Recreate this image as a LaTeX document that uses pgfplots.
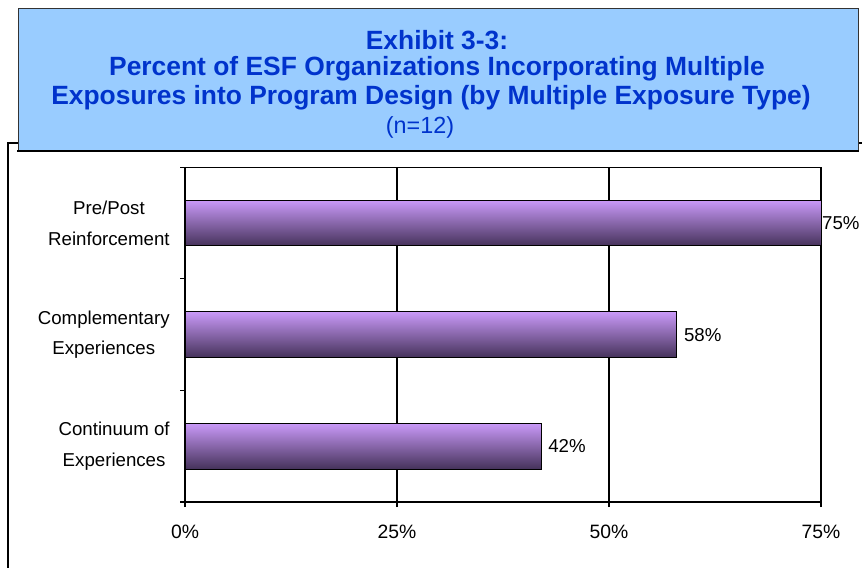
\documentclass[border=0pt]{standalone}
\usepackage{pgfplots}
\pgfplotsset{compat=1.18}
\usepackage{fontspec}
\setmainfont{Liberation Sans}
\definecolor{boxfill}{HTML}{99CCFF}
\definecolor{titleblue}{HTML}{0033CC}
\definecolor{barlight}{HTML}{C999F8}
\definecolor{barmid}{HTML}{8E6AB5}
\definecolor{bardark}{HTML}{45325A}
\pgfplotsset{
  mybar/.style={xbar, bar shift=0, draw=black, line width=0.75pt,
    top color=barlight, middle color=barmid, bottom color=bardark,
    nodes near coords={\pgfmathprintnumber{\pgfplotspointmeta}\%},
    nodes near coords style={font=\fontsize{14}{16}\selectfont, anchor=west, inner sep=0pt, xshift=#1, text=black},
    point meta=x},
}
\begin{document}
\begin{tikzpicture}[x=0.75pt,y=-0.75pt]
\clip (0,0) rectangle (862,567);
% outer frame
\draw[line width=1.125pt,black] (8,143) rectangle (870,600);
\coordinate (axorig) at (185,502);
% axis
\begin{axis}[
  at={(axorig)}, anchor=south west,
  scale only axis, width=477pt, height=251pt,
  xmin=0, xmax=75, ymin=-0.5, ymax=2.5,
  axis line style={line width=1.125pt,black},
  xtick={0,25,50,75},
  xticklabels={0\%,25\%,50\%,75\%},
  xmajorgrids, major grid style={line width=1pt,black},
  ytick={-0.5,0.5,1.5,2.5},
  yticklabels={},
  extra y ticks={0,1,2},
  extra y tick labels={{Continuum of\\Experiences},{Complementary\\Experiences},{Pre/Post\\Reinforcement}},
  extra y tick style={major tick length=0pt, tick style={draw=none}},
  xtick pos=bottom, ytick pos=left,
  tick align=outside,
  major tick length=3.75pt,
  tick style={line width=0.9pt,black},
  yticklabel style={align=center,font=\fontsize{14}{23}\selectfont,xshift=-8pt},
  xticklabel style={font=\fontsize{14.5}{16}\selectfont,yshift=-10pt},
  /pgf/number format/assume math mode=true,
  bar width=0.41,
  clip=false,
]
\addplot[mybar=5pt] coordinates {(42,0)};
\addplot[mybar=5pt] coordinates {(58,1)};
\addplot[mybar=0.5pt] coordinates {(75,2)};
\end{axis}
% title box
\fill[boxfill] (18,9) rectangle (858,151);
\draw[line width=0.75pt,black!80] (18,151) -- (18,9) -- (858,9) -- (858,151);
\draw[line width=1.875pt,black] (17,151) -- (859,151);
\node[text=titleblue,font=\fontsize{19.8}{20}\selectfont\bfseries] at (437,40) {Exhibit 3-3:};
\node[text=titleblue,font=\fontsize{19.8}{20}\selectfont\bfseries] at (437,69) {Percent of ESF Organizations Incorporating Multiple};
\node[text=titleblue,font=\fontsize{19.8}{20}\selectfont\bfseries] at (431,98) {Exposures into Program Design (by Multiple Exposure Type)};
\node[text=titleblue,font=\fontsize{17.5}{18}\selectfont] at (420,127) {(n=12)};
\end{tikzpicture}
\end{document}
